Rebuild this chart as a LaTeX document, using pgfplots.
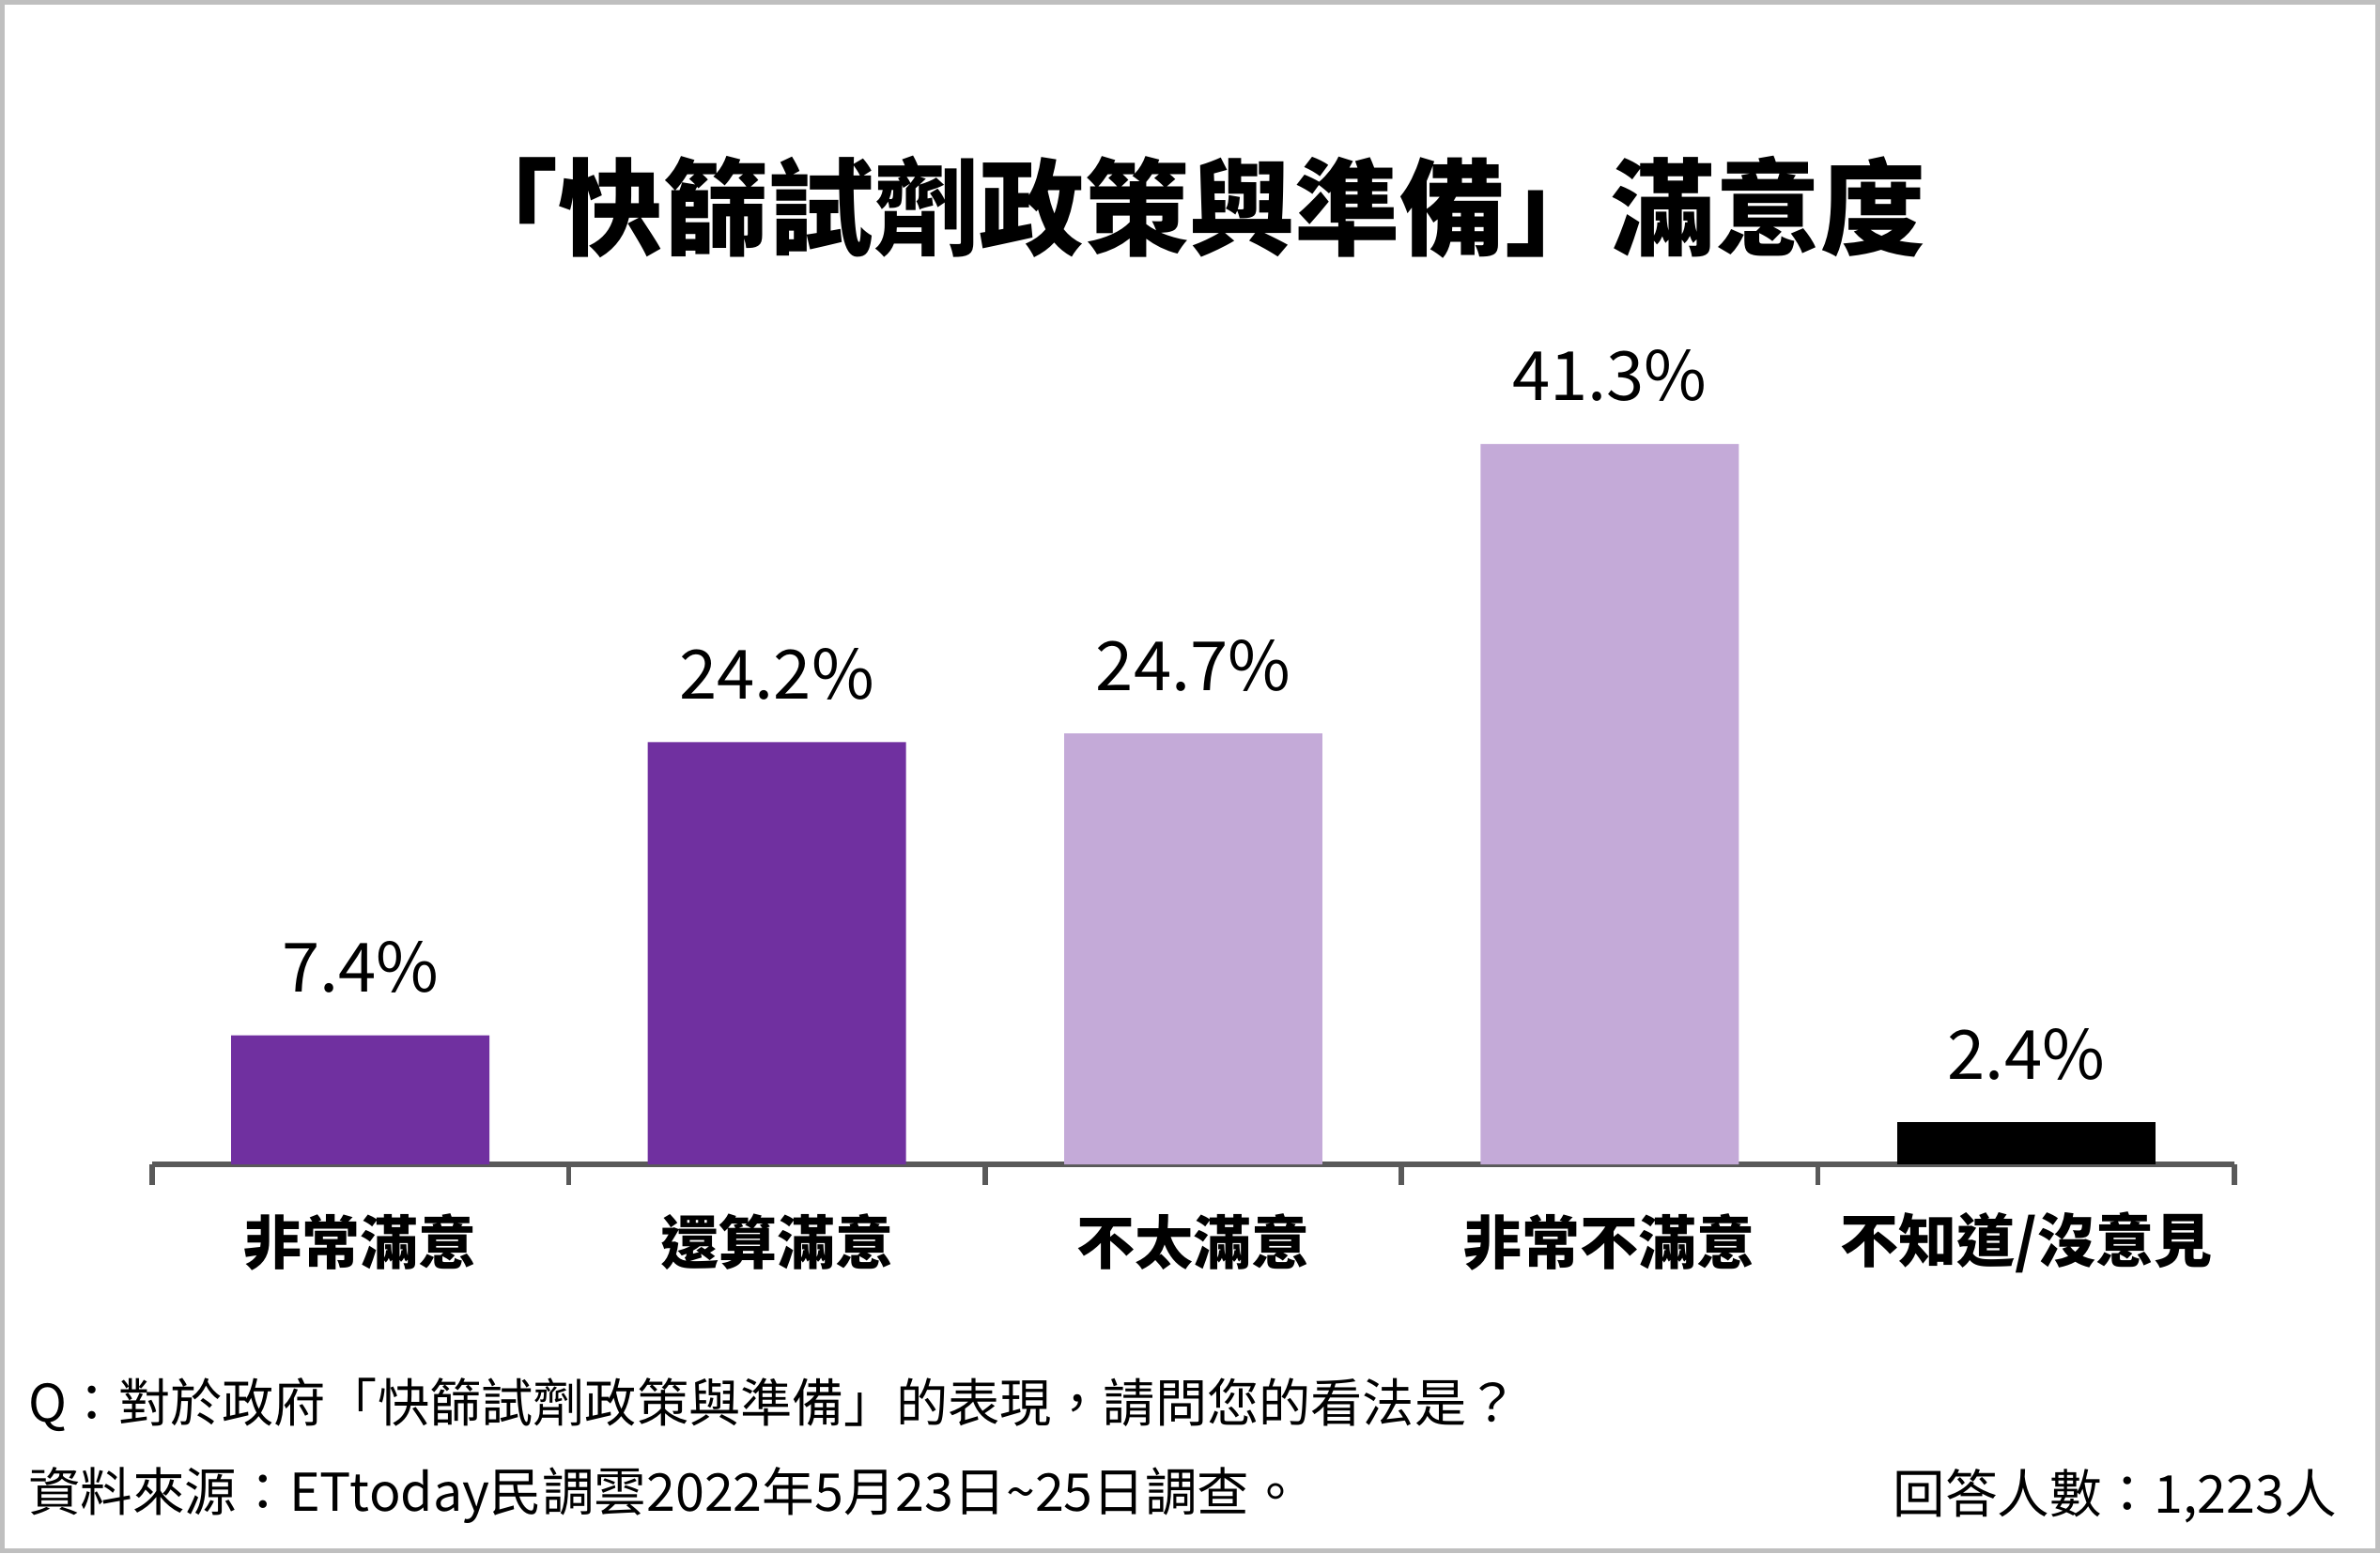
\documentclass[border=0pt]{standalone}
\usepackage{fontspec}
\setmainfont{Noto Sans CJK TC}
\usepackage{pgfplots}
\pgfplotsset{compat=1.18}
\definecolor{darkpurple}{HTML}{7030A0}
\definecolor{lightpurple}{HTML}{C4AAD8}
\definecolor{axisgray}{HTML}{595959}
\definecolor{framegray}{HTML}{BFBFBF}
\begin{document}
\begin{tikzpicture}
\path[use as bounding box] (0,0) rectangle (633.5pt,413.5pt);
\draw[framegray, line width=1.2pt] (0.6pt,0.6pt) rectangle (632.9pt,412.9pt);
\begin{axis}[
  at={(40.5pt,103.5pt)}, anchor=south west,
  scale only axis, width=554.25pt, height=209pt,
  xmin=-0.5, xmax=4.5, ymin=0, ymax=45,
  axis x line*=bottom, axis y line=none,
  x axis line style={axisgray, line width=1.4pt},
  xtick={0,1,2,3,4},
  xticklabels={非常滿意,還算滿意,不太滿意,非常不滿意,不知道/沒意見},
  major tick length=0pt,
  minor xtick={-0.5,0.5,1.5,2.5,3.5,4.5},
  minor tick length=5.5pt, tick align=outside,
  minor tick style={axisgray, line width=1.4pt},
  xticklabel style={font=\fontsize{15.5pt}{18pt}\selectfont\bfseries, anchor=center, inner sep=0pt, yshift=-20.75pt},
  ybar, bar width=0.62, bar shift=0pt,
  /pgf/number format/assume math mode=true,
  nodes near coords={\pgfmathprintnumber[fixed,precision=1,fixed zerofill,assume math mode=true]{\pgfplotspointmeta}\%},
  nodes near coords style={font=\fontsize{18.1pt}{22pt}\selectfont, anchor=base, inner sep=0pt, yshift=11.5pt, text=black},
  clip=false,
]
\addplot[fill=darkpurple, draw=none] coordinates {(0,7.4) (1,24.2)};
\addplot[fill=lightpurple, draw=none] coordinates {(2,24.7) (3,41.3)};
\addplot[fill=black, draw=none] coordinates {(4,2.4)};
\end{axis}
\node[font=\fontsize{28pt}{32pt}\selectfont\bfseries, inner sep=0pt] at (316.5pt,358.25pt) {「快篩試劑政策與準備」滿意度};
\node[font=\fontsize{13.8pt}{16pt}\selectfont, anchor=west, inner sep=0pt] at (7.3pt,39.5pt) {Q：對於政府「快篩試劑政策與準備」的表現，請問您的看法是？};
\node[font=\fontsize{13.9pt}{16pt}\selectfont, anchor=west, inner sep=0pt] at (7.3pt,15.3pt) {資料來源：ETtoday民調雲2022年5月23日\textasciitilde 25日調查。};
\node[font=\fontsize{13.9pt}{16pt}\selectfont, anchor=east, inner sep=0pt] at (622.2pt,15.3pt) {回答人數：1,223人};
\end{tikzpicture}
\end{document}
